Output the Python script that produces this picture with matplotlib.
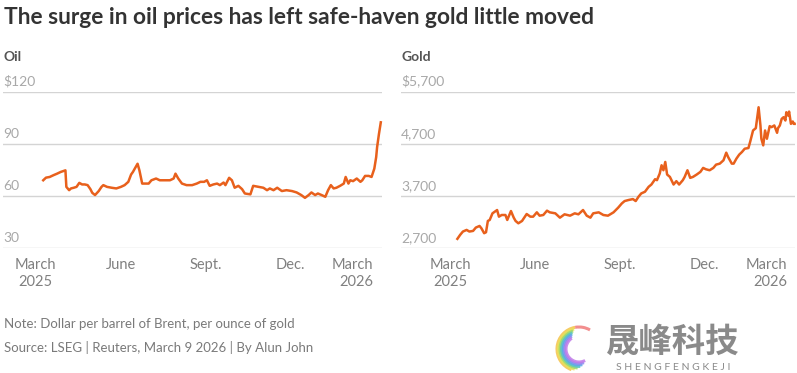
import matplotlib
matplotlib.use("Agg")
import matplotlib.pyplot as plt
from matplotlib.patches import Arc
import matplotlib.transforms as mtransforms

title = "The surge in oil prices has left safe-haven gold little moved"
note = "Note: Dollar per barrel of Brent, per ounce of gold"
source = "Source: LSEG | Reuters, March 9 2026 | By Alun John"

# x axis: days since 1 March 2025
x_tick_days = [0, 92, 184, 275, 365]
x_tick_labels = ["March\n2025", "June", "Sept.", "Dec.", "March\n2026"]

oil_days = [8, 11, 15, 19, 23, 27, 32, 33, 36, 38, 41, 44, 47, 50, 53, 56, 59, 61, 64, 68,
            71, 73, 77, 82, 87, 92, 96, 100, 103, 105, 107, 110, 112, 115, 118, 122, 125, 130, 134, 140,
            145, 149, 151, 154, 158, 163, 169, 174, 178, 182, 185, 188, 192, 196, 199, 203, 205, 209, 212, 215,
            219, 223, 226, 232, 235, 241, 246, 250, 253, 257, 261, 266, 271, 277, 282, 287, 291, 295, 298, 302,
            305, 309, 313, 316, 319, 322, 325, 329, 333, 335, 338, 340, 343, 347, 351, 353, 356, 360, 363, 366,
            368, 369, 371, 373]
oil_values = [69.1, 70.6, 71.0, 72.0, 72.9, 73.9, 74.8, 65.3, 63.4, 64.4, 64.8, 65.3, 67.6, 66.7, 66.7, 66.3, 64.0, 61.9, 60.6, 62.9,
              65.3, 66.3, 65.3, 64.8, 64.4, 65.3, 66.3, 68.2, 72.4, 73.9, 75.8, 78.6, 74.8, 67.2, 67.2, 67.2, 69.1, 70.1, 69.1, 69.1,
              69.1, 70.1, 72.9, 70.1, 67.2, 66.3, 66.3, 67.2, 68.2, 68.2, 69.1, 65.9, 66.7, 67.2, 66.3, 67.8, 66.3, 70.5, 69.1, 64.8,
              65.9, 64.0, 61.5, 61.0, 65.9, 65.3, 64.8, 63.4, 64.4, 63.4, 64.8, 62.9, 63.4, 62.9, 62.1, 60.6, 59.0, 60.6, 62.1, 60.6,
              61.5, 60.6, 59.6, 63.4, 66.3, 64.4, 64.8, 65.9, 67.2, 71.0, 67.2, 69.1, 68.6, 70.1, 68.2, 69.1, 71.6, 71.6, 71.0, 75.8,
              82.4, 88.1, 95.7, 102.4]
oil_yticks = [30, 60, 90, 120]
oil_ytick_labels = ["30", "60", "90", "$120"]

gold_days = [8, 11, 14, 18, 21, 25, 28, 32, 34, 37, 39, 41, 43, 46, 51, 53, 56, 60, 62, 66,
             69, 71, 74, 78, 83, 87, 90, 94, 97, 101, 105, 108, 114, 119, 124, 130, 135, 139, 144, 148,
             152, 155, 161, 166, 171, 177, 182, 186, 189, 193, 198, 201, 204, 207, 211, 215, 218, 222, 224, 227,
             229, 231, 233, 235, 238, 242, 245, 248, 252, 254, 257, 260, 263, 267, 271, 274, 277, 281, 285, 288,
             292, 296, 299, 301, 305, 307, 310, 313, 316, 319, 323, 325, 328, 331, 334, 336, 337, 339, 341, 343,
             346, 348, 351, 354, 355, 357, 359, 361, 363, 364, 366, 367, 369, 371, 372, 373]
gold_values = [2881, 2957, 3021, 3052, 3021, 3033, 3097, 3128, 3084, 2989, 3008, 3224, 3243, 3370, 3433, 3306, 3338, 3338, 3243, 3414,
               3287, 3224, 3179, 3224, 3357, 3306, 3306, 3389, 3325, 3338, 3421, 3389, 3370, 3287, 3351, 3325, 3370, 3351, 3433, 3325,
               3287, 3370, 3389, 3338, 3325, 3389, 3478, 3560, 3605, 3624, 3643, 3605, 3687, 3751, 3783, 3878, 3922, 4024, 4005, 4132,
               4291, 4195, 4354, 4113, 4068, 3922, 3986, 3922, 4005, 4068, 4195, 4049, 4068, 4113, 4164, 4240, 4214, 4195, 4240, 4303,
               4322, 4386, 4532, 4449, 4322, 4322, 4418, 4494, 4545, 4608, 4621, 4748, 4957, 5002, 5402, 5053, 4799, 4672, 4957, 4799,
               5040, 5021, 5053, 4913, 5002, 5053, 5180, 5211, 5148, 5307, 5243, 5319, 5084, 5129, 5084, 5084]
gold_yticks = [2700, 3700, 4700, 5700]
gold_ytick_labels = ["2,700", "3,700", "4,700", "$5,700"]

FONT = ["Lato", "DejaVu Sans"]
LINE = "#e8601c"
GRID = "#d4d4d4"
YLAB = "#a8a8a8"
XLAB = "#808080"

W, H = 797, 373
fig = plt.figure(figsize=(W / 100, H / 100), dpi=100)
plt.rcParams["font.family"] = FONT


def px_axes(x0, x1, ytop, ybot):
    return fig.add_axes([x0 / W, 1 - ybot / H, (x1 - x0) / W, (ybot - ytop) / H])


def style(ax, days, values, yticks, ylabels, ylim, xlim, name, name_x):
    ax.plot(days, values, color=LINE, lw=1.8, solid_joinstyle="round", clip_on=False, zorder=3)
    ax.set_xlim(*xlim)
    ax.set_ylim(*ylim)
    for s in ax.spines.values():
        s.set_visible(False)
    ax.set_yticks(yticks)
    ax.set_yticklabels(ylabels)
    ax.grid(axis="y", color=GRID, lw=1.0, zorder=1)
    ax.tick_params(axis="y", length=0, pad=0, labelsize=10, labelcolor=YLAB)
    off = mtransforms.ScaledTranslation(0, 3 / 72, fig.dpi_scale_trans)
    for lbl in ax.get_yticklabels():
        lbl.set_ha("left")
        lbl.set_va("bottom")
        lbl.set_transform(lbl.get_transform() + off)
    ax.set_xticks(x_tick_days)
    ax.set_xticklabels(x_tick_labels)
    ax.tick_params(axis="x", length=0, pad=7, labelsize=10.5, labelcolor=XLAB)
    labels = ax.get_xticklabels()
    labels[-1].set_ha("right")
    for lbl in labels:
        lbl.set_linespacing(1.25)
    fig.text(name_x / W, 1 - 57 / H, name, fontsize=10, fontweight="bold", color="#555555",
             ha="left", va="center")


ax1 = px_axes(3, 382, 91.7, 248.3)
style(ax1, oil_days, oil_values, oil_yticks, oil_ytick_labels, (30, 120), (-35.5, 374.3), "Oil", 4)

ax2 = px_axes(401, 795, 91.7, 248.3)
style(ax2, gold_days, gold_values, gold_yticks, gold_ytick_labels, (2700, 5700), (-53, 373.4), "Gold", 401)

fig.text(4 / W, 1 - 18 / H, title, fontsize=16.4, fontweight="bold", color="#333333", ha="left", va="center")
fig.text(4 / W, 1 - 324 / H, note, fontsize=9.5, color="#7a7a7a", ha="left", va="center")
fig.text(4 / W, 1 - 348 / H, source, fontsize=9.5, color="#7a7a7a", ha="left", va="center")

# watermark
fig.text(673 / W, 1 - 342 / H, "晟峰科技", fontsize=24, fontweight="bold", color="#8a8a8a",
         family=["Noto Sans CJK SC", "DejaVu Sans"], ha="center", va="center")
fig.text(673 / W, 1 - 368 / H, "S H E N G F E N G K E J I", fontsize=7.5, color="#8a8a8a",
         ha="center", va="center")
wm = fig.add_axes([545 / W, 1 - 373 / H, 60 / W, 52 / H])
wm.set_xlim(0, 60)
wm.set_ylim(0, 52)
wm.axis("off")
cols = ["#f5c24a", "#e8e25a", "#9fd86a", "#5cc8b8", "#5aa8e8", "#8a8ef0", "#c07ae8"]
for i, c in enumerate(cols):
    wm.add_patch(Arc((34, 24), 44 - i * 3, 44 - i * 3, theta1=100 + i * 4, theta2=250 + i * 8,
                     color=c, lw=2.2, alpha=0.85))
wm.add_patch(Arc((34, 24), 44, 44, theta1=60, theta2=100, color="#f07a7a", lw=2.2, alpha=0.85))

fig.savefig("out.png", dpi=100)
